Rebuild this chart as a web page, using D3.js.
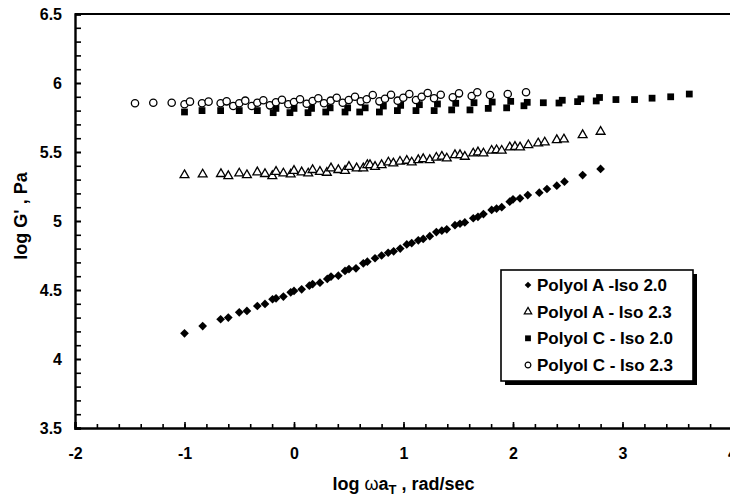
<!DOCTYPE html>
<html><head><meta charset="utf-8">
<script src="https://cdn.jsdelivr.net/npm/d3@7"></script>
<style>html,body{margin:0;padding:0;background:#fff;}svg{display:block;}</style>
</head><body>
<script>
const polyolA_iso20 = [[-1.0,4.186],[-0.834,4.239],[-0.67,4.288],[-0.60,4.30],[-0.50,4.338],[-0.43,4.348],[-0.335,4.384],[-0.265,4.399],[-0.196,4.433],[-0.164,4.44],[-0.097,4.452],[-0.03,4.483],[0.0,4.493],[0.07,4.505],[0.14,4.531],[0.17,4.543],[0.237,4.553],[0.304,4.58],[0.338,4.597],[0.405,4.604],[0.466,4.638],[0.502,4.652],[0.566,4.657],[0.633,4.693],[0.67,4.705],[0.74,4.73],[0.80,4.75],[0.86,4.77],[0.91,4.78],[0.97,4.80],[1.03,4.83],[1.075,4.84],[1.135,4.86],[1.18,4.87],[1.24,4.89],[1.30,4.92],[1.35,4.93],[1.395,4.94],[1.47,4.97],[1.516,4.98],[1.56,4.99],[1.637,5.02],[1.68,5.03],[1.73,5.05],[1.805,5.08],[1.85,5.09],[1.897,5.10],[1.97,5.14],[2.0,5.157],[2.064,5.164],[2.135,5.188],[2.24,5.205],[2.31,5.232],[2.40,5.256],[2.47,5.285],[2.636,5.333],[2.80,5.377]];
const polyolA_iso23 = [[-1.0,5.333],[-0.834,5.338],[-0.667,5.341],[-0.60,5.326],[-0.50,5.345],[-0.43,5.333],[-0.335,5.353],[-0.265,5.341],[-0.198,5.326],[-0.164,5.357],[-0.097,5.345],[-0.03,5.338],[0.0,5.364],[0.07,5.353],[0.13,5.345],[0.17,5.37],[0.237,5.357],[0.30,5.35],[0.338,5.382],[0.405,5.37],[0.466,5.364],[0.502,5.393],[0.572,5.382],[0.633,5.382],[0.67,5.406],[0.694,5.406],[0.74,5.393],[0.80,5.406],[0.862,5.425],[0.907,5.418],[0.968,5.43],[1.03,5.437],[1.075,5.425],[1.135,5.442],[1.18,5.449],[1.24,5.442],[1.30,5.459],[1.35,5.467],[1.395,5.454],[1.47,5.478],[1.516,5.478],[1.56,5.466],[1.637,5.49],[1.68,5.498],[1.73,5.49],[1.805,5.51],[1.85,5.514],[1.897,5.51],[1.97,5.534],[2.018,5.538],[2.064,5.534],[2.14,5.55],[2.23,5.563],[2.29,5.57],[2.40,5.587],[2.465,5.592],[2.636,5.623],[2.80,5.647]];
const polyolC_iso20 = [[-1.0,5.79],[-0.84,5.80],[-0.67,5.80],[-0.50,5.80],[-0.335,5.80],[-0.19,5.785],[-0.165,5.816],[-0.037,5.785],[0.0,5.816],[0.128,5.785],[0.16,5.816],[0.29,5.79],[0.33,5.82],[0.466,5.79],[0.49,5.82],[0.60,5.79],[0.65,5.82],[0.78,5.79],[0.816,5.833],[0.944,5.80],[0.974,5.838],[1.114,5.80],[1.145,5.843],[1.28,5.80],[1.31,5.848],[1.44,5.805],[1.477,5.853],[1.607,5.805],[1.644,5.857],[1.774,5.816],[1.81,5.862],[1.942,5.82],[1.979,5.867],[2.10,5.835],[2.13,5.86],[2.277,5.857],[2.42,5.855],[2.45,5.875],[2.59,5.865],[2.62,5.885],[2.76,5.87],[2.79,5.895],[2.94,5.88],[3.11,5.88],[3.27,5.89],[3.44,5.90],[3.61,5.92]];
const polyolC_iso23 = [[-1.452,5.853],[-1.285,5.857],[-1.117,5.857],[-1.0,5.846],[-0.95,5.865],[-0.84,5.853],[-0.78,5.865],[-0.67,5.853],[-0.615,5.867],[-0.555,5.833],[-0.50,5.853],[-0.445,5.872],[-0.386,5.833],[-0.335,5.857],[-0.28,5.875],[-0.22,5.838],[-0.165,5.86],[-0.11,5.879],[-0.052,5.846],[0.0,5.862],[0.055,5.882],[0.116,5.85],[0.17,5.87],[0.222,5.889],[0.274,5.853],[0.335,5.872],[0.39,5.893],[0.445,5.857],[0.50,5.877],[0.557,5.90],[0.61,5.867],[0.664,5.882],[0.719,5.913],[0.78,5.867],[0.831,5.886],[0.886,5.915],[0.947,5.872],[0.998,5.893],[1.053,5.92],[1.114,5.877],[1.166,5.90],[1.221,5.928],[1.279,5.889],[1.34,5.915],[1.45,5.896],[1.507,5.925],[1.623,5.906],[1.674,5.933],[1.79,5.913],[1.952,5.92],[2.119,5.933]];
const seriesNames = ["Polyol A -Iso 2.0","Polyol A - Iso 2.3","Polyol C - Iso 2.0","Polyol C - Iso 2.3"];
const xTicks = [-2,-1,0,1,2,3,4];
const xTickLabels = ["-2","-1","0","1","2","3","4"];
const yTicks = [3.5,4,4.5,5,5.5,6,6.5];
const yTickLabels = ["3.5","4","4.5","5","5.5","6","6.5"];
const xMinorTicks = d3.range(-2,4.001,0.2);
const yMinorTicks = d3.range(3.5,6.501,0.1);

const W=730,H=498;
const FONT='"Liberation Sans", Arial, sans-serif';
const svg=d3.select("body").append("svg").attr("width",W).attr("height",H).style("font-family",FONT);
const x=d3.scaleLinear().domain([-2,4]).range([75,732]);
const y=d3.scaleLinear().domain([3.5,6.5]).range([428,14]);

svg.append("line").attr("x1",x(-2)).attr("x2",x(4)).attr("y1",y(6.5)).attr("y2",y(6.5)).attr("stroke","#000").attr("stroke-width",2.2);

const gxm=svg.append("g").attr("transform",`translate(0,${y(3.5)})`).call(d3.axisBottom(x).tickValues(xMinorTicks).tickSize(-4).tickFormat(""));
const gym=svg.append("g").attr("transform",`translate(${x(-2)},0)`).call(d3.axisLeft(y).tickValues(yMinorTicks).tickSize(-6).tickFormat(""));
[gxm,gym].forEach(g=>{g.select(".domain").remove();g.selectAll(".tick line").attr("stroke","#000").attr("stroke-width",1.6);});

const gx=svg.append("g").attr("transform",`translate(0,${y(3.5)})`)
  .call(d3.axisBottom(x).tickValues(xTicks).tickSize(-6).tickPadding(20).tickFormat((d,i)=>xTickLabels[i]));
const gy=svg.append("g").attr("transform",`translate(${x(-2)},0)`)
  .call(d3.axisLeft(y).tickValues(yTicks).tickSize(-6).tickPadding(13).tickFormat((d,i)=>yTickLabels[i]));
[gx,gy].forEach(g=>{
  g.select(".domain").attr("stroke","#000").attr("stroke-width",2.4);
  g.selectAll(".tick line").attr("stroke","#000").attr("stroke-width",1.6);
  g.selectAll(".tick text").attr("fill","#000").style("font-family",FONT).style("font-size","16px").style("font-weight","bold");
});

const sym = {
  diamond: d3.symbol().type(d3.symbolSquare).size(38),
  triangle: d3.symbol().type(d3.symbolTriangle).size(34),
  square: d3.symbol().type(d3.symbolSquare).size(46),
  circle: d3.symbol().type(d3.symbolCircle).size(42)
};
function drawSeries(data,s,fill,stroke,rot){
  svg.append("g").selectAll("path").data(data).join("path")
    .attr("d",s).attr("transform",d=>`translate(${x(d[0])},${y(d[1])}) rotate(${rot||0})`)
    .attr("fill",fill).attr("stroke",stroke).attr("stroke-width",stroke==="none"?0:1.3);
}
drawSeries(polyolA_iso20,sym.diamond,"#000","none",45);
drawSeries(polyolA_iso23,sym.triangle,"#fff","#000");
drawSeries(polyolC_iso20,sym.square,"#000","none");
drawSeries(polyolC_iso23,sym.circle,"#fff","#000");

svg.append("text").attr("x",(x(-2)+x(4))/2).attr("y",490).attr("text-anchor","middle")
  .style("font-size","18px").style("font-weight","bold")
  .call(t=>{t.append("tspan").text("log ");
    t.append("tspan").text("ω").style("font-weight","normal");
    t.append("tspan").text("a");
    t.append("tspan").text("T").attr("dy",4).style("font-size","13px");
    t.append("tspan").text(" , rad/sec").attr("dy",-4);});
svg.append("text").attr("transform","translate(27,216) rotate(-90)").attr("text-anchor","middle")
  .style("font-size","18px").style("font-weight","bold").text("log G' , Pa");

const lg=svg.append("g");
lg.append("rect").attr("x",505).attr("y",274).attr("width",192).attr("height",111).attr("fill","#000");
lg.append("rect").attr("x",501).attr("y",270).attr("width",192).attr("height",111).attr("fill","#fff").attr("stroke","#000").attr("stroke-width",1.6);
const lsyms=[[d3.symbol().type(d3.symbolSquare).size(22),"#000","none",45],[d3.symbol().type(d3.symbolTriangle).size(24),"#fff","#000",0],[d3.symbol().type(d3.symbolSquare).size(34),"#000","none",0],[d3.symbol().type(d3.symbolCircle).size(26),"#fff","#000",0]];
const rowY=[285,311.7,338.3,365];
seriesNames.forEach((n,i)=>{
  const [s,f,st,r]=lsyms[i];
  lg.append("path").attr("d",s).attr("transform",`translate(528,${rowY[i]}) rotate(${r})`).attr("fill",f).attr("stroke",st).attr("stroke-width",st==="none"?0:1.2);
  lg.append("text").attr("x",537).attr("y",rowY[i]).attr("dy","0.36em").style("font-size","17px").style("font-weight","bold").text(n);
});
</script>
</body></html>
